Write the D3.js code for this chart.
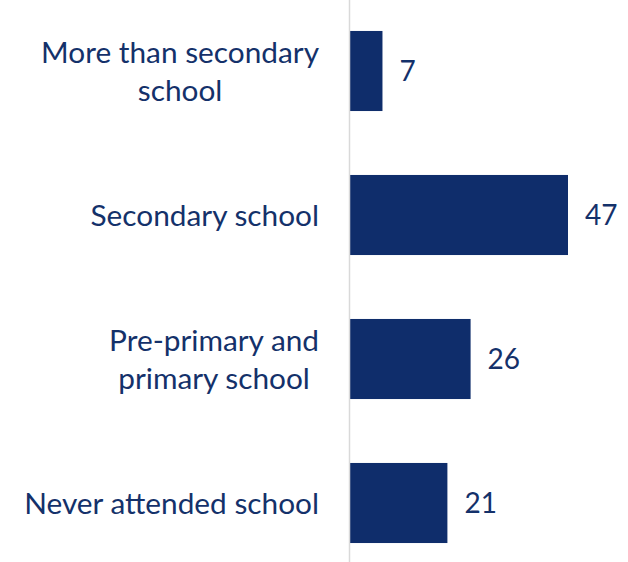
<!DOCTYPE html>
<html>
<head>
<meta charset="utf-8">
<script src="https://cdn.jsdelivr.net/npm/d3@7"></script>
<style>
  html, body { margin: 0; padding: 0; background: #fff; }
  svg { display: block; }
</style>
</head>
<body>
<svg id="chart" width="628" height="562"></svg>
<script>
// Education level (share, %)
const categories = [
  ["More than secondary", "school"],
  ["Secondary school"],
  ["Pre-primary and", "primary school"],
  ["Never attended school"]
];
const values = [7, 47, 26, 21];

const barColor = "#0f2d6b";
const textColor = "#14316a";
const fontFamily = "Lato, 'Open Sans', sans-serif";

const svg = d3.select("#chart");
const axisX = 349.5;
const labelRight = 319;

const y = d3.scaleBand()
  .domain(d3.range(values.length))
  .range([-1, 575])
  .paddingInner(0.444)
  .paddingOuter(0.222);

const x = d3.scaleLinear()
  .domain([0, 47])
  .range([axisX + 0.5, 568]);

// bars
svg.selectAll("rect.bar")
  .data(values)
  .join("rect")
  .attr("class", "bar")
  .attr("x", x(0))
  .attr("y", (d, i) => y(i))
  .attr("width", d => x(d) - x(0))
  .attr("height", y.bandwidth())
  .attr("fill", barColor);

// vertical category axis line
svg.append("line")
  .attr("x1", axisX).attr("x2", axisX)
  .attr("y1", 0).attr("y2", 562)
  .attr("stroke", "#d9d9d9")
  .attr("stroke-width", 1.5);

// category labels: a centred block of lines whose right edge sits at labelRight
const lineH = 38;
const labels = svg.selectAll("text.cat")
  .data(categories)
  .join("text")
  .attr("class", "cat")
  .attr("text-anchor", "middle")
  .attr("font-family", fontFamily)
  .attr("font-size", 29.8)
  .attr("fill", textColor);

labels.each(function(lines, i) {
  const cy = y(i) + y.bandwidth() / 2;
  const t = d3.select(this);
  const spans = lines.map((ln, k) =>
    t.append("tspan")
      .attr("y", cy + (k - (lines.length - 1) / 2) * lineH)
      .attr("dy", "0.36em")
      .text(ln));
  const widest = d3.max(spans, s => s.node().getComputedTextLength());
  spans.forEach(s => s.attr("x", labelRight - widest / 2));
});

// value labels
svg.selectAll("text.val")
  .data(values)
  .join("text")
  .attr("class", "val")
  .attr("x", d => x(d) + 17)
  .attr("y", (d, i) => y(i) + y.bandwidth() / 2)
  .attr("dy", "0.36em")
  .attr("font-family", fontFamily)
  .attr("font-size", 28)
  .attr("fill", textColor)
  .text(d => d);
</script>
</body>
</html>
